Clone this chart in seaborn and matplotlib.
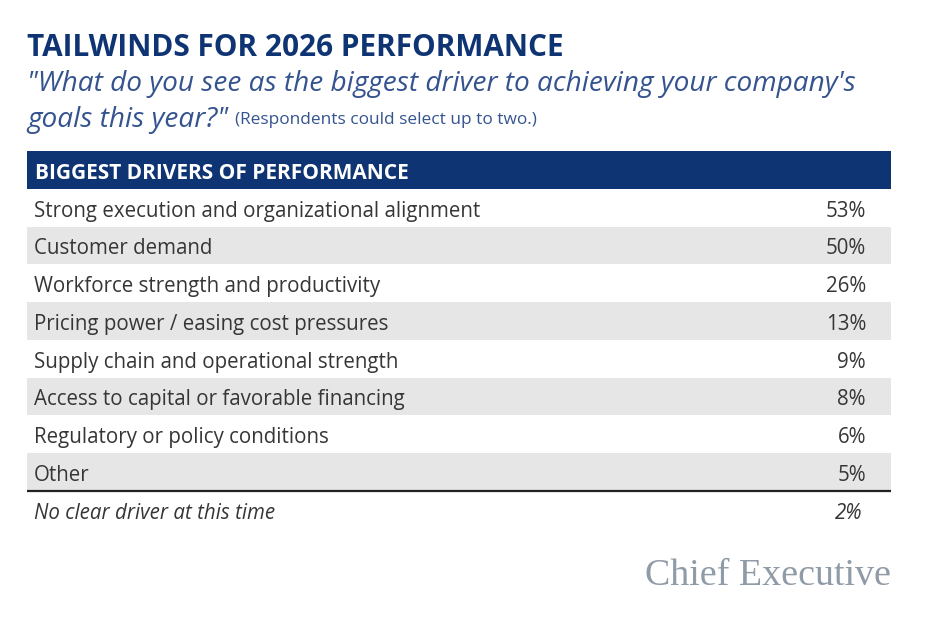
import matplotlib
matplotlib.use("Agg")
import matplotlib.pyplot as plt
import seaborn as sns

# ---------------- data ----------------
title = "TAILWINDS FOR 2026 PERFORMANCE"
question_line1 = "\"What do you see as the biggest driver to achieving your company's"
question_line2 = "goals this year?\""
note = "(Respondents could select up to two.)"
header = "BIGGEST DRIVERS OF PERFORMANCE"
drivers = [
    "Strong execution and organizational alignment",
    "Customer demand",
    "Workforce strength and productivity",
    "Pricing power / easing cost pressures",
    "Supply chain and operational strength",
    "Access to capital or favorable financing",
    "Regulatory or policy conditions",
    "Other",
]
shares = [53, 50, 26, 13, 9, 8, 6, 5]
none_label = "No clear driver at this time"
none_share = 2
logo = "Chief Executive"

# ---------------- style ----------------
sns.set_theme(style="white")
plt.rcParams["font.family"] = ["Open Sans", "DejaVu Sans"]

NAVY = "#0f3473"
BLUE = "#34538f"
GRAY = "#e6e6e6"
TXT = "#363636"

W, H = 936, 639
fig = plt.figure(figsize=(W / 100, H / 100), dpi=100)
fig.patch.set_facecolor("white")
bg = fig.add_axes([0, 0, 1, 1])
bg.set_xlim(0, W)
bg.set_ylim(H, 0)
bg.axis("off")


def fit(t, width_px):
    fig.canvas.draw()
    r = fig.canvas.get_renderer()
    w = t.get_window_extent(r).width
    t.set_fontsize(t.get_fontsize() * width_px / w)
    return t.get_fontsize()


# titles
t1 = bg.text(27, 45, title, fontsize=19, fontweight="bold", color=NAVY,
             va="center_baseline", ha="left")
fit(t1, 535)
q1 = bg.text(27, 80.5, question_line1, fontsize=18, style="italic", color=BLUE,
             va="center_baseline", ha="left")
qs = fit(q1, 830)
q2 = bg.text(27, 117, question_line2, fontsize=qs, style="italic", color=BLUE,
             va="center_baseline", ha="left")
n1 = bg.text(235, 118.5, note, fontsize=9, color=BLUE, va="center_baseline", ha="left")
fit(n1, 302)

# ---------------- table ----------------
top = 151.4
rowh = 37.7
nrows = len(drivers) + 2
ax = fig.add_axes([27 / W, 1 - (top + nrows * rowh) / H, 864 / W, nrows * rowh / H])
ax.set_xlim(0, 864)
ax.set_ylim(nrows - 0.5, -0.5)
ax.axis("off")

ax.axhspan(-0.5, 0.5, color=NAVY, lw=0)
h = ax.text(8, 0.01, header, fontsize=12, fontweight="bold", color="white",
            va="center_baseline", ha="left")
fit(h, 372)

for i, (lab, val) in enumerate(zip(drivers, shares), start=1):
    if i % 2 == 0:
        ax.axhspan(i - 0.5, i + 0.5, color=GRAY, lw=0)

dy = 0.02
label_texts = []
for i, (lab, val) in enumerate(zip(drivers, shares), start=1):
    label_texts.append(ax.text(7, i + dy, lab, fontsize=12, color=TXT,
                               va="center_baseline", ha="left"))
    label_texts.append(ax.text(839, i + dy, f"{val}%", fontsize=12, color=TXT,
                               va="center_baseline", ha="right"))
ls = fit(label_texts[0], 446)
for t in label_texts:
    t.set_fontsize(ls)

sep = len(drivers) + 0.5
ax.plot([0, 864], [sep, sep], color="#222222", lw=1.6, solid_capstyle="butt")

ax.text(7, nrows - 1 + dy + 0.02, none_label, fontsize=ls, style="italic", color=TXT,
        va="center_baseline", ha="left")
ax.text(835, nrows - 1 + dy + 0.02, f"{none_share}%", fontsize=ls, style="italic",
        color=TXT, va="center_baseline", ha="right")

# logo
lg = bg.text(891, 585, logo, fontsize=28, color="#8f9ba6",
             family=["Liberation Serif", "DejaVu Serif"], va="baseline", ha="right")
fit(lg, 246)

fig.savefig("out.png", dpi=100, facecolor="white")
